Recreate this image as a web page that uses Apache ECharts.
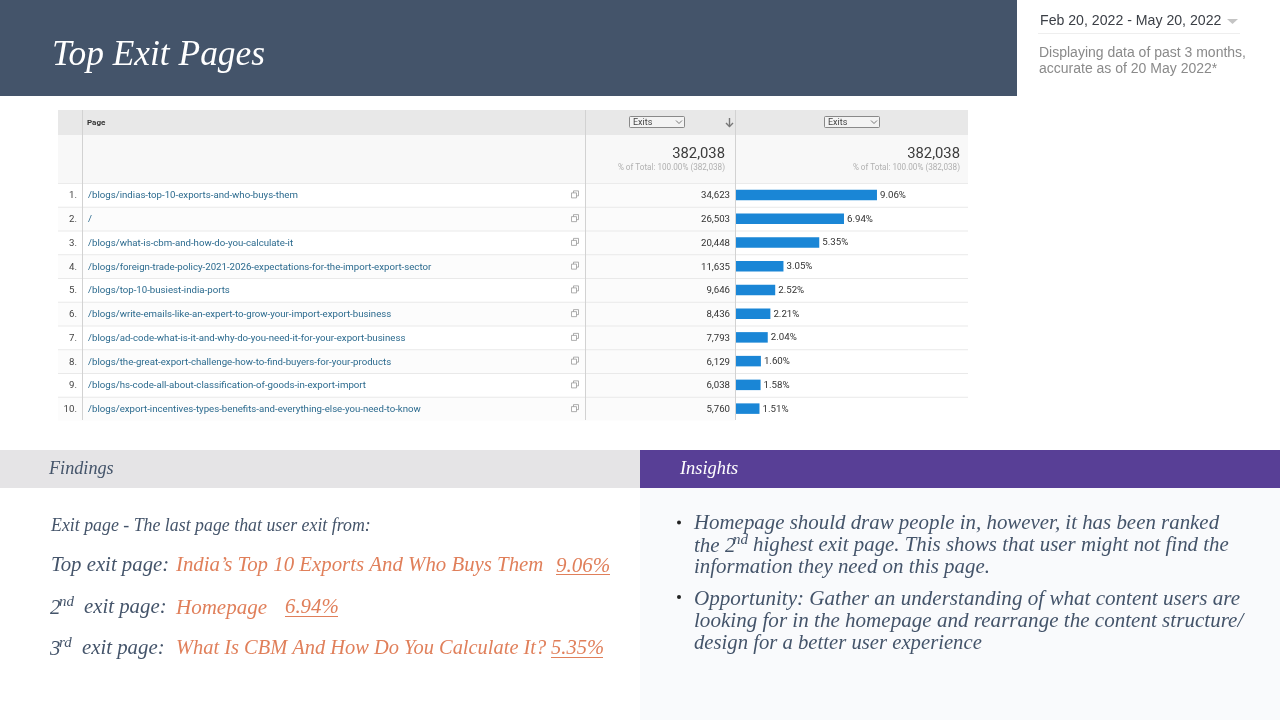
<!DOCTYPE html>
<html><head><meta charset="utf-8">
<style>html,body{margin:0;padding:0;background:#fff}#c{width:1280px;height:720px}</style>
<script src="https://cdn.jsdelivr.net/npm/echarts@6/dist/echarts.min.js"></script>
</head><body><div id="c"></div>
<script>
const pages = ["/blogs/indias-top-10-exports-and-who-buys-them","/","/blogs/what-is-cbm-and-how-do-you-calculate-it","/blogs/foreign-trade-policy-2021-2026-expectations-for-the-import-export-sector","/blogs/top-10-busiest-india-ports","/blogs/write-emails-like-an-expert-to-grow-your-import-export-business","/blogs/ad-code-what-is-it-and-why-do-you-need-it-for-your-export-business","/blogs/the-great-export-challenge-how-to-find-buyers-for-your-products","/blogs/hs-code-all-about-classification-of-goods-in-export-import","/blogs/export-incentives-types-benefits-and-everything-else-you-need-to-know"];
const ranks = ["1.","2.","3.","4.","5.","6.","7.","8.","9.","10."];
const exits = [34623,26503,20448,11635,9646,8436,7793,6129,6038,5760];
const shares = [9.06,6.94,5.35,3.05,2.52,2.21,2.04,1.60,1.58,1.51];
const totalExits = "382,038";
const totalNote = "% of Total: 100.00% (382,038)";
const insight1 = ["Homepage should draw people in, however, it has been ranked","highest exit page. This shows that user might not find the","information they need on this page."];
const insight2 = ["Opportunity: Gather an understanding of what content users are","looking for in the homepage and rearrange the content structure/","design for a better user experience"];

const SERIF = '"Liberation Serif","DejaVu Serif",serif', SANS = '"Liberation Sans",Arial,sans-serif', UI = 'Roboto,sans-serif';
const INK = '#44546A', ORANGE = '#E07F5A';
const g = [];
const rect = (x,y,w,h,fill,z=0)=>g.push({type:'rect',z,silent:true,shape:{x,y,width:w,height:h},style:{fill}});
const line = (x1,y1,x2,y2,stroke,w=1,z=1)=>g.push({type:'line',z,silent:true,shape:{x1,y1,x2,y2},style:{stroke,lineWidth:w}});
const text = (x,y,t,font,fill,align='left',z=3)=>g.push({type:'text',z,silent:true,x,y,style:{text:t,font,fill,align,verticalAlign:'middle'}});
const ser = (s,w='normal')=>`italic ${w} ${s}px ${SERIF}`;

rect(0,0,1017,96,'#44546A');
text(52,56,'Top Exit Pages',ser(35.4),'#fff');
text(1040,21.5,'Feb 20, 2022 - May 20, 2022',`14.13px ${SANS}`,'#3b3f46');
g.push({type:'polygon',silent:true,shape:{points:[[1227,19],[1238,19],[1232.5,24]]},style:{fill:'#c4c4c4'}});
line(1038,33.5,1240,33.5,'#eeeeee',1);
text(1039,53.5,'Displaying data of past 3 months,',`14px ${SANS}`,'#8a8a8a');
text(1039,69.5,'accurate as of 20 May 2022*',`14px ${SANS}`,'#8a8a8a');

// table frame
const rowH = 23.75, tableTop = 183;
rect(58,110,910,25,'#E8E8E8');
rect(58,135,910,48,'#F8F8F8');
rect(585,183,150,237.5,'#FBFBFB');
for(let i=0;i<10;i++){
  if(i%2===1) rect(58,tableTop+i*rowH,527,rowH,'#FCFCFC');
  if(i>0) line(58,tableTop+i*rowH+.5,968,tableTop+i*rowH+.5,'#E9E9E9',1);
}
line(58,183.5,968,183.5,'#EBEBEB',1);
[82.5,585.5,735.5].forEach(x=>line(x,110,x,420,'#D2D2D2',1,2));
text(87,122.5,'Page',`bold 8px ${UI}`,'#333');
[[630,55],[825,55]].forEach(([x,w])=>{
  g.push({type:'rect',z:2,silent:true,shape:{x:x-.5,y:116.5,width:w,height:11,r:1},style:{fill:'#F3F3F3',stroke:'#6f6f6f',lineWidth:.8}});
  text(x+3,122.5,'Exits',`9px ${UI}`,'#444');
  g.push({type:'polyline',z:3,silent:true,shape:{points:[[x+46,120.5],[x+49,123.5],[x+52,120.5]]},style:{stroke:'#555',fill:null,lineWidth:.8}});
});
g.push({type:'polyline',z:3,silent:true,shape:{points:[[729.5,118],[729.5,126.5]]},style:{stroke:'#777',fill:null,lineWidth:1.4}});
g.push({type:'polyline',z:3,silent:true,shape:{points:[[726,123],[729.5,126.5],[733,123]]},style:{stroke:'#777',fill:null,lineWidth:1.4}});
text(725,154.5,totalExits,`14.8px ${UI}`,'#3c3c3c','right');
text(960,154.5,totalExits,`14.8px ${UI}`,'#3c3c3c','right');
text(725,167.5,totalNote,`8.15px ${UI}`,'#b0b0b0','right');
text(960,167.5,totalNote,`8.15px ${UI}`,'#b0b0b0','right');
for(let i=0;i<10;i++){
  const y = tableTop+(i+.5)*rowH-.5;
  g.push({type:'rect',z:3,silent:true,shape:{x:573.5,y:y-3.5,width:5,height:5},style:{fill:'#fff',stroke:'#999',lineWidth:.8}});
  g.push({type:'rect',z:3,silent:true,shape:{x:571.5,y:y-1.5,width:5,height:5},style:{fill:'#fff',stroke:'#999',lineWidth:.8}});
}

// findings / insights
rect(0,450,640,38,'#E5E4E6');
rect(640,450,640,38,'#583F96');
rect(640,488,640,232,'#F9FAFC');
text(49,469,'Findings',ser(18.2),INK);
text(680,469,'Insights',ser(18.4),'#fff');
text(51,526.5,'Exit page - The last page that user exit from:',ser(17.83),INK);
text(51,566,'Top exit page:',ser(20.8),INK);
text(176,566,'India\u2019s Top 10 Exports And Who Buys Them',ser(20.83),ORANGE);
text(556,566,'9.06%',ser(21),ORANGE);
line(556,574.5,610,574.5,ORANGE,1.2);
text(50,608,'2',ser(21),INK); text(59,602,'nd',ser(15),INK); text(84,608,'exit page:',ser(20.8),INK);
text(176,608,'Homepage',ser(21),ORANGE);
text(285,608,'6.94%',ser(20.8),ORANGE);
line(285,616.5,338,616.5,ORANGE,1.2);
text(50,649,'3',ser(21),INK); text(59,643,'rd',ser(15),INK); text(82,649,'exit page:',ser(20.8),INK);
text(176,649,'What Is CBM And How Do You Calculate It?',ser(20.43),ORANGE);
text(551,649,'5.35%',ser(20.5),ORANGE);
line(551,657.5,603,657.5,ORANGE,1.2);

const lh = 22.2;
g.push({type:'circle',z:3,silent:true,shape:{cx:679,cy:522.5,r:2},style:{fill:'#222'}});
text(694,524,insight1[0],ser(20.9),INK);
text(694,546,'the 2',ser(21),INK); text(733,540.5,'nd',ser(15),INK); text(753,546,insight1[1],ser(20.87),INK);
text(694,568,insight1[2],ser(20.9),INK);
g.push({type:'circle',z:3,silent:true,shape:{cx:679,cy:597,r:2},style:{fill:'#222'}});
[21.08,21.08,20.7].forEach((s,i)=>text(694,599+i*lh,insight2[i],ser(s),INK));

const rowLabel = (margin,align,color)=>({interval:0,margin,align,color,fontFamily:'Roboto',fontSize:9.67,verticalAlign:'top',lineHeight:2});
const hiddenAxis = {type:'category',inverse:true,position:'left',axisLine:{show:false},axisTick:{show:false},splitLine:{show:false}};
const chart = echarts.init(document.getElementById('c'),null,{renderer:'canvas'});
chart.setOption({
  animation:false,
  backgroundColor:'#fff',
  grid:{left:736,top:tableTop,width:232,height:237.5,containLabel:false},
  xAxis:{type:'value',min:0,max:14.91,show:false},
  yAxis:[
    {...hiddenAxis,data:exits.map(v=>v.toLocaleString('en-US')),axisLabel:rowLabel(6,'right','#333')},
    {...hiddenAxis,data:pages,axisLabel:rowLabel(648,'left','#2B6A8E')},
    {...hiddenAxis,data:ranks,axisLabel:rowLabel(659,'right','#444')}
  ],
  graphic:{elements:g},
  series:[{type:'bar',yAxisIndex:0,data:shares,barWidth:10.5,itemStyle:{color:'#1A86D6'},z:5,
    label:{show:true,position:'right',distance:3,offset:[0,.5],formatter:p=>p.value.toFixed(2)+'%',fontFamily:'Roboto',fontSize:9.7,color:'#333'}}]
});
</script></body></html>
